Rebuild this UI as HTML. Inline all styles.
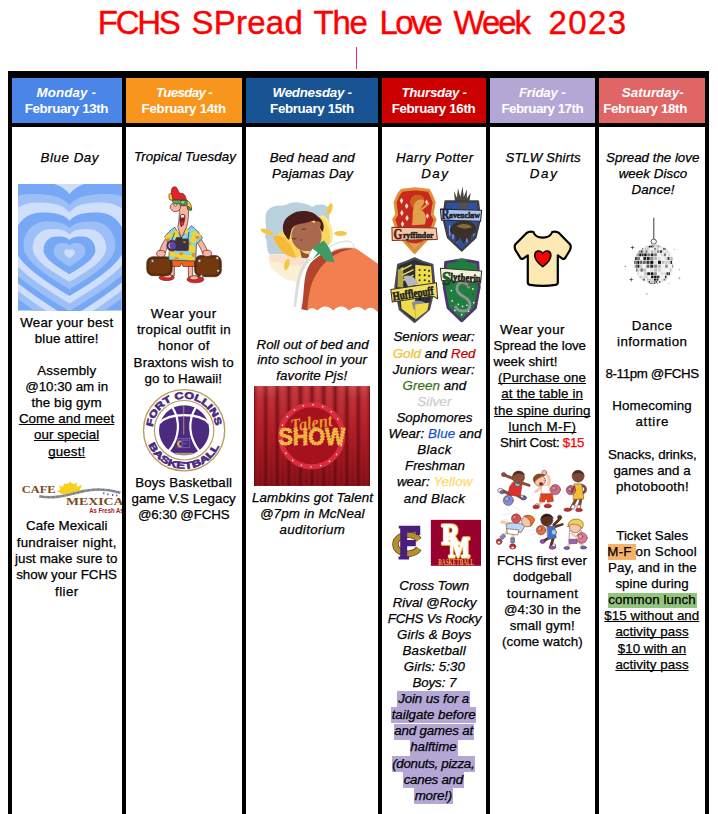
<!DOCTYPE html>
<html><head><meta charset="utf-8"><title>FCHS Spread The Love Week 2023</title>
<style>
html,body{margin:0;padding:0;background:#fff}
body{width:718px;height:814px;overflow:hidden;position:relative;font-family:"Liberation Sans",sans-serif;color:#000}
.tb{position:absolute;left:8px;top:71px;width:701px;height:760px;background:#000}
.c{position:absolute}
.t{position:absolute;white-space:nowrap;font-size:13.33px;line-height:1;margin:0;-webkit-text-stroke:0.25px currentColor}
.i{font-style:italic}
.h{font-weight:bold;color:#fff;-webkit-text-stroke:0}
.hb{font-weight:bold;font-style:italic;color:#fff;-webkit-text-stroke:0}
.u{text-decoration:underline;text-decoration-thickness:1px;text-underline-offset:1.4px;text-decoration-skip-ink:none}
.ttl{font-size:33px;color:#ff0000;font-weight:normal;-webkit-text-stroke:0.4px #ff0000}
.hl{position:absolute}
.h1{position:absolute;left:0;top:0;width:718px;height:45px;margin:0;font-weight:normal}
svg{position:absolute;overflow:hidden;display:block}
</style></head><body>
<div class="tb"></div>
<div class="c" style="left:12px;top:78px;width:110px;height:45px;background:#4a86e8"></div>
<div class="c" style="left:12px;top:127px;width:110px;height:700px;background:#fff"></div>
<div class="c" style="left:126px;top:78px;width:116px;height:45px;background:#f8951d"></div>
<div class="c" style="left:126px;top:127px;width:116px;height:700px;background:#fff"></div>
<div class="c" style="left:246px;top:78px;width:132px;height:45px;background:#185493"></div>
<div class="c" style="left:246px;top:127px;width:132px;height:700px;background:#fff"></div>
<div class="c" style="left:382px;top:78px;width:104px;height:45px;background:#cc0000"></div>
<div class="c" style="left:382px;top:127px;width:104px;height:700px;background:#fff"></div>
<div class="c" style="left:490px;top:78px;width:105px;height:45px;background:#b4a7d6"></div>
<div class="c" style="left:490px;top:127px;width:105px;height:700px;background:#fff"></div>
<div class="c" style="left:599px;top:78px;width:106px;height:45px;background:#e06666"></div>
<div class="c" style="left:599px;top:127px;width:106px;height:700px;background:#fff"></div>
<div class="c" style="left:356px;top:47px;width:1px;height:22px;background:#e52592"></div>
<svg style="left:18.2px;top:184.2px" width="103.8" height="126.6" viewBox="0 0 103.8 126.6"><rect width="103.8" height="126.6" fill="#77a8f6"/><path d="M51.5,-10.1 C62.7,-24.3 82.8,-26.8 107.5,-26.8 C141.1,-26.8 163.5,1.4 163.5,36.7 C163.5,75.5 107.5,114.3 51.5,149.6 C-4.5,114.3 -60.5,75.5 -60.5,36.7 C-60.5,1.4 -38.1,-26.8 -4.5,-26.8 C20.1,-26.8 40.3,-24.3 51.5,-10.1Z" fill="#9cbff8"/><path d="M51.5,-0.0 C61.5,-14.2 79.6,-16.7 101.6,-16.7 C131.7,-16.7 151.8,8.7 151.8,40.4 C151.8,75.4 101.6,110.3 51.5,142.1 C1.3,110.3 -48.8,75.4 -48.8,40.4 C-48.8,8.7 -28.8,-16.7 1.3,-16.7 C23.4,-16.7 41.4,-14.2 51.5,-0.0Z" fill="#cfdffb"/><path d="M51.5,10.0 C60.3,-1.4 76.3,-3.4 95.8,-3.4 C122.3,-3.4 140.1,18.7 140.1,46.3 C140.1,76.6 95.8,107.0 51.5,134.5 C7.2,107.0 -37.1,76.6 -37.1,46.3 C-37.1,18.7 -19.4,-3.4 7.2,-3.4 C26.7,-3.4 42.6,-1.4 51.5,10.0Z" fill="#77a8f6"/><path d="M51.5,20.9 C59.2,11.6 73.2,10.0 90.3,10.0 C113.6,10.0 129.2,28.7 129.2,52.1 C129.2,77.9 90.3,103.6 51.5,127.0 C12.6,103.6 -26.3,77.9 -26.3,52.1 C-26.3,28.7 -10.7,10.0 12.6,10.0 C29.7,10.0 43.7,11.6 51.5,20.9Z" fill="#9cbff8"/><path d="M51.5,28.4 C58.2,19.9 70.2,18.4 84.9,18.4 C105.0,18.4 118.3,34.5 118.3,54.8 C118.3,77.0 84.9,99.3 51.5,119.5 C18.0,99.3 -15.4,77.0 -15.4,54.8 C-15.4,34.5 -2.0,18.4 18.0,18.4 C32.7,18.4 44.8,19.9 51.5,28.4Z" fill="#cfdffb"/><path d="M51.5,36.8 C57.1,29.6 67.1,28.4 79.5,28.4 C96.3,28.4 107.5,41.8 107.5,58.5 C107.5,76.9 79.5,95.3 51.5,112.0 C23.5,95.3 -4.5,76.9 -4.5,58.5 C-4.5,41.8 6.7,28.4 23.5,28.4 C35.8,28.4 45.9,29.6 51.5,36.8Z" fill="#77a8f6"/><path d="M51.5,44.3 C56.1,38.6 64.3,37.6 74.5,37.6 C88.2,37.6 97.4,48.4 97.4,62.0 C97.4,76.9 74.5,91.7 51.5,105.3 C28.5,91.7 5.5,76.9 5.5,62.0 C5.5,48.4 14.7,37.6 28.5,37.6 C38.6,37.6 46.9,38.6 51.5,44.3Z" fill="#9cbff8"/><path d="M51.5,50.6 C55.1,45.9 61.8,45.1 69.9,45.1 C80.9,45.1 88.2,53.5 88.2,64.1 C88.2,75.6 69.9,87.2 51.5,97.8 C33.1,87.2 14.7,75.6 14.7,64.1 C14.7,53.5 22.0,45.1 33.1,45.1 C41.2,45.1 47.8,45.9 51.5,50.6Z" fill="#cfdffb"/><path d="M51.5,56.0 C54.1,53.1 58.7,52.6 64.4,52.6 C72.2,52.6 77.4,58.6 77.4,66.2 C77.4,74.4 64.4,82.7 51.5,90.2 C38.5,82.7 25.6,74.4 25.6,66.2 C25.6,58.6 30.7,52.6 38.5,52.6 C44.2,52.6 48.9,53.1 51.5,56.0Z" fill="#77a8f6"/><path d="M51.5,61.8 C53.1,59.4 55.9,59.0 59.4,59.0 C64.2,59.0 67.3,62.8 67.3,67.5 C67.3,72.8 59.4,78.0 51.5,82.7 C43.5,78.0 35.6,72.8 35.6,67.5 C35.6,62.8 38.8,59.0 43.5,59.0 C47.0,59.0 49.9,59.4 51.5,61.8Z" fill="#9cbff8"/><path d="M51.5,66.0 C52.0,65.3 53.0,65.2 54.1,65.2 C55.7,65.2 56.8,66.6 56.8,68.5 C56.8,70.5 54.1,72.5 51.5,74.4 C48.8,72.5 46.1,70.5 46.1,68.5 C46.1,66.6 47.2,65.2 48.8,65.2 C50.0,65.2 50.9,65.3 51.5,66.0Z" fill="#cfdffb"/></svg>
<svg style="left:140px;top:180px" width="90" height="110" viewBox="0 0 666 814">
<g stroke-linejoin="round" stroke="#4a2a1a" stroke-width="5">
<path d="M196,425 C170,460 150,500 140,540 L185,545 C195,510 210,480 225,460Z" fill="#f7b3a4"/>
<path d="M440,425 C470,460 490,500 505,535 L465,545 C455,515 440,490 425,465Z" fill="#f7b3a4"/>
<rect x="222" y="625" width="32" height="85" fill="#f7b3a4"/>
<rect x="358" y="625" width="32" height="95" fill="#f7b3a4"/>
<ellipse cx="197" cy="722" rx="56" ry="22" fill="#e3222b"/>
<ellipse cx="205" cy="712" rx="30" ry="14" fill="#f7b3a4"/>
<ellipse cx="410" cy="736" rx="62" ry="25" fill="#e3222b"/>
<ellipse cx="400" cy="724" rx="32" ry="15" fill="#f7b3a4"/>
<path d="M210,585 L412,592 L408,640 L318,640 L308,615 L296,640 L215,638Z" fill="#f0641a"/>
<rect x="50" y="568" width="188" height="140" rx="45" fill="#5e2a0c"/>
<rect x="62" y="580" width="164" height="116" rx="36" fill="#74380f"/>
<rect x="404" y="558" width="198" height="158" rx="48" fill="#5e2a0c"/>
<rect x="416" y="570" width="174" height="134" rx="40" fill="#74380f"/>
<circle cx="92" cy="600" r="11" fill="#cdd3bd"/><circle cx="440" cy="598" r="12" fill="#cdd3bd"/><circle cx="572" cy="578" r="12" fill="#cdd3bd"/><circle cx="455" cy="712" r="12" fill="#cdd3bd"/><circle cx="578" cy="672" r="11" fill="#cdd3bd"/>
<ellipse cx="155" cy="545" rx="32" ry="24" fill="#f7b3a4"/>
<ellipse cx="497" cy="543" rx="32" ry="24" fill="#f7b3a4"/>
<path d="M258,350 C225,370 200,395 183,420 L212,470 L222,450 L212,592 L412,600 L418,470 L432,462 L462,428 C440,390 410,360 380,338 L305,425Z" fill="#7fd6ee"/>
<g fill="#f6d22e" stroke="none">
<ellipse cx="225" cy="410" rx="22" ry="14"/><ellipse cx="400" cy="395" rx="24" ry="16"/><ellipse cx="245" cy="555" rx="26" ry="16"/><ellipse cx="385" cy="510" rx="24" ry="30"/><ellipse cx="345" cy="570" rx="30" ry="16"/><ellipse cx="340" cy="375" rx="16" ry="22"/>
</g>
<g fill="#f6d22e" stroke="none"><ellipse cx="290" cy="470" rx="0" ry="0"/><ellipse cx="265" cy="400" rx="20" ry="26"/><ellipse cx="300" cy="560" rx="34" ry="20"/><ellipse cx="395" cy="440" rx="22" ry="26"/><ellipse cx="230" cy="520" rx="14" ry="30"/><ellipse cx="372" cy="575" rx="30" ry="18"/><ellipse cx="435" cy="410" rx="18" ry="14"/><ellipse cx="200" cy="425" rx="14" ry="18"/></g>
<g fill="#f08a1e" stroke="none">
<ellipse cx="210" cy="440" rx="12" ry="9"/><ellipse cx="425" cy="425" rx="16" ry="11"/><ellipse cx="270" cy="580" rx="18" ry="9"/><ellipse cx="395" cy="555" rx="12" ry="16"/><ellipse cx="305" cy="545" rx="16" ry="10"/><ellipse cx="365" cy="470" rx="10" ry="14"/>
</g>
<path d="M292,190 C292,260 286,330 280,350 L305,430 L345,350 C358,300 362,240 358,190Z" fill="#f7b3a4"/>
<path d="M298,262 C312,250 326,252 332,262 C334,300 322,335 304,345 C294,320 294,290 298,262Z" fill="#9c0f1f"/>
<path d="M300,262 C312,252 324,254 330,262 L328,280 L301,282Z" fill="#fff"/>
<ellipse cx="312" cy="322" rx="10" ry="16" fill="#e8484a"/>
<ellipse cx="262" cy="200" rx="38" ry="34" fill="#f7b3a4"/>
<ellipse cx="262" cy="184" rx="12" ry="9" fill="#fff"/>
<path d="M345,150 C370,160 385,190 380,222 L352,215Z" fill="#f6d22e"/>
<path d="M355,195 L385,215 L375,228 L352,215Z" fill="#3aa84a"/>
<path d="M216,105 C230,90 262,100 275,150 L222,148 C214,135 212,120 216,105Z" fill="#f6d22e"/>
<path d="M238,148 L348,148 L346,180 C338,192 310,192 300,182 C292,172 280,170 268,176 C252,178 240,168 238,148Z" fill="#39c15a"/>
<path d="M300,152 L335,152 L332,178 L304,178Z" fill="#7be08a"/>
<path d="M236,112 C222,66 246,36 272,58 C284,78 288,96 300,100 C322,92 338,116 342,146 L244,146Z" fill="#e8202e"/>
<path d="M256,390 L232,455" stroke="#222" stroke-width="5" fill="none"/>
<path d="M362,385 L352,455" stroke="#222" stroke-width="5" fill="none"/>
<rect x="262" y="436" width="96" height="86" rx="8" fill="#3a3347"/>
<rect x="270" y="426" width="40" height="16" fill="#3a3347"/>
<rect x="318" y="452" width="22" height="14" fill="#f0c020"/>
<circle cx="238" cy="486" r="40" fill="#3a3060"/>
<circle cx="238" cy="486" r="30" fill="#5b46b0"/>
<path d="M222,468 a24,24 0 0 0 0,36" stroke="#e8e0ff" stroke-width="7" fill="none"/>
</g>
</svg>
<svg style="left:138px;top:384px" width="92" height="92" viewBox="0 0 718 718">
<circle cx="360" cy="361" r="317" fill="#fff" stroke="#b79d5b" stroke-width="11"/>
<circle cx="360" cy="361" r="232" fill="#fff" stroke="#b79d5b" stroke-width="9"/>
<circle cx="360" cy="361" r="196" fill="#4b2a80"/>
<g fill="none" stroke="#fff" stroke-width="17" stroke-linecap="butt">
<path d="M268,180 C335,290 325,420 240,525"/>
<path d="M452,180 C385,290 395,420 480,525"/>
<path d="M170,305 C240,222 480,222 550,305"/>
</g>
<path d="M357,165 L357,395" stroke="#c9b27a" stroke-width="6"/>
<rect x="312" y="425" width="92" height="72" fill="none" stroke="#8a6fb5" stroke-width="5"/>
<path d="M345,445 a26,26 0 1 0 0,44 l0,-10 a15,15 0 1 1 0,-24Z" fill="#d8b64a"/>
<path d="M338,432 L392,432 L392,444 L352,444 L352,458 L380,458 L380,470 L352,470 L352,494 L338,494Z" fill="#6a4aa0"/>
<path d="M290,537 h140 v16 h-140Z" fill="#c9b27a" opacity="0.8"/>
<defs>
<path id="fcTop" d="M 114.4,335.2 A 247,247 0 0 1 605.6,335.2"/>
<path id="fcBot" d="M 81.8,473.4 A 300,300 0 0 0 638.2,473.4"/>
</defs>
<text font-family="Liberation Sans, sans-serif" font-weight="bold" font-size="74" fill="#4b2a80" stroke="#4b2a80" stroke-width="5" textLength="715" lengthAdjust="spacingAndGlyphs"><textPath href="#fcTop" startOffset="0">FORT COLLINS</textPath></text>
<text font-family="Liberation Sans, sans-serif" font-weight="bold" font-size="74" fill="#4b2a80" stroke="#4b2a80" stroke-width="5" textLength="700" lengthAdjust="spacingAndGlyphs"><textPath href="#fcBot" startOffset="0">BASKETBALL</textPath></text>
</svg>
<svg style="left:12px;top:474px" width="110" height="46" viewBox="0 0 692.8 289.7">
<g fill="#f7d11e">
<path d="M306,120 A58,58 0 0 1 424,112 C400,118 350,128 306,126Z"/>
<path d="M300,118 L280,108 L304,100 L296,72 L322,84 L330,56 L350,78 L368,44 L380,74 L410,52 L408,84 L440,66 L428,100 L448,100 L424,114Z"/>
</g>
<path d="M172,140 C260,160 360,130 450,108 C540,88 620,100 682,118" fill="none" stroke="#8e93b5" stroke-width="17"/>
<path d="M172,140 C260,160 360,130 450,108 C540,88 620,100 682,118" fill="none" stroke="#d9822b" stroke-width="11" stroke-dasharray="9 23"/>
<path d="M172,140 C260,160 360,130 450,108 C540,88 620,100 682,118" fill="none" stroke="#3d7fc4" stroke-width="11" stroke-dasharray="8 24" stroke-dashoffset="11"/>
<path d="M172,140 C260,160 360,130 450,108 C540,88 620,100 682,118" fill="none" stroke="#4f9a4a" stroke-width="9" stroke-dasharray="6 26" stroke-dashoffset="21"/>
<g fill="#4a5a9a"><rect x="600" y="122" width="8" height="12"/><rect x="630" y="126" width="8" height="12"/><rect x="656" y="130" width="8" height="10"/><rect x="574" y="116" width="8" height="12"/></g>
<text x="62" y="122" font-family="Liberation Serif, serif" font-weight="bold" font-size="66" fill="#7b4a1c" textLength="212" lengthAdjust="spacingAndGlyphs">CAFE</text>
<text x="340" y="196" font-family="Liberation Serif, serif" font-weight="bold" font-size="68" fill="#7b4a1c" textLength="420" lengthAdjust="spacingAndGlyphs">MEXICAL</text>
<text x="486" y="246" font-family="Liberation Sans, sans-serif" font-size="46" font-weight="bold" fill="#a3202f" textLength="250" lengthAdjust="spacingAndGlyphs">As Fresh As It</text>
</svg>
<svg style="left:256px;top:196px" width="122" height="120" viewBox="0 0 695.2 683.8">
<path d="M60,92 C95,40 140,62 172,50 C220,22 282,40 320,62 C360,40 402,48 418,72 L418,332 L78,332 C52,300 72,262 50,232 C72,190 42,142 60,92Z" fill="#b9d1dc"/>
<path d="M76,334 L310,334 L262,492 C226,502 204,470 182,482 C150,470 132,442 112,432 C82,420 70,382 76,334Z" fill="#fbf0d4"/>
<path d="M76,334 L310,334 L296,392 C220,404 150,380 80,372Z" fill="#fbe1cc"/>
<g fill="#f6c544">
<ellipse cx="62" cy="204" rx="38" ry="14" transform="rotate(22 62 204)"/>
<ellipse cx="420" cy="74" rx="14" ry="34" transform="rotate(18 420 74)"/>
<ellipse cx="482" cy="214" rx="36" ry="14"/>
<ellipse cx="176" cy="390" rx="14" ry="34" transform="rotate(15 176 390)"/>
</g>
<path d="M98,232 C180,190 290,140 382,108 C420,130 446,190 432,262 C360,300 290,330 228,352 C170,348 120,300 98,232Z" fill="#fbd65f"/>
<path d="M98,232 C150,210 200,260 228,352 C170,348 120,300 98,232Z" fill="#f7b93a"/>
<path d="M360,118 C400,130 430,190 420,255 L432,262 C446,190 420,130 382,108Z" fill="#fde792"/>
<path d="M250,300 C270,330 300,340 340,320 L345,360 L260,352Z" fill="#8f553c"/>
<circle cx="288" cy="228" r="86" fill="#a9694f"/>
<path d="M170,230 C140,190 150,130 200,105 C240,75 320,80 350,115 C385,135 395,180 378,205 C360,180 352,150 330,140 C290,160 230,150 205,185 C195,210 195,235 188,250 C178,246 174,238 170,230Z" fill="#4a1d1a"/>
<circle cx="350" cy="163" r="19" fill="#a9694f"/>
<path d="M205,240 q12,10 26,2" stroke="#3a1a12" stroke-width="4" fill="none"/>
<path d="M262,192 q10,-8 22,-2" stroke="#3a1a12" stroke-width="4" fill="none"/>
<ellipse cx="258" cy="250" rx="6" ry="4" fill="#6b2a22"/>
<path d="M296,350 C340,300 440,265 520,256 C548,262 560,280 556,296 C470,300 380,330 330,400 C290,470 300,560 262,648 L214,628 C230,540 220,430 296,350Z" fill="#fff"/>
<path d="M296,350 C220,430 230,540 214,628 L228,636 C246,540 240,440 310,366Z" fill="#dcdcdc"/>
<path d="M312,380 C380,312 480,282 570,300 C480,330 392,400 336,500 C312,560 306,620 296,652 L258,646 C280,560 262,450 312,380Z" fill="#b4452d"/>
<path d="M340,452 C400,342 500,300 572,300 L696,386 L696,662 C672,640 650,622 620,652 C590,622 560,630 530,652 C500,622 470,622 440,652 C410,622 380,622 350,652 C322,632 304,640 292,652 C300,560 310,502 340,452Z" fill="#f27f50"/>
<path d="M404,300 C440,272 500,252 530,258 C552,266 562,282 556,297 C500,290 452,302 424,324Z" fill="#fff" stroke="#cfcfcf" stroke-width="5"/>
<path d="M330,292 L386,254 C420,290 440,340 446,378 L400,372 L362,330 L322,362 L298,334Z" fill="#3e9c62"/>
<path d="M322,300 L352,322 L322,362 L300,336Z" fill="#fff"/>
</svg>
<svg style="left:254.2px;top:386.3px" width="116" height="100" viewBox="0 0 590 508">
<defs>
<linearGradient id="tsv" x1="0" y1="0" x2="0" y2="1"><stop offset="0" stop-color="#c63a40"/><stop offset="0.45" stop-color="#b01a22"/><stop offset="1" stop-color="#7a0a12"/></linearGradient>
<linearGradient id="tsf" x1="0" y1="0" x2="1" y2="0"><stop offset="0" stop-color="#5a060c" stop-opacity="0.75"/><stop offset="0.5" stop-color="#e8404a" stop-opacity="0.0"/><stop offset="1" stop-color="#5a060c" stop-opacity="0.75"/></linearGradient>
<pattern id="tsp" width="59" height="508" patternUnits="userSpaceOnUse"><rect width="59" height="508" fill="url(#tsf)"/></pattern>
<radialGradient id="tsl" cx="0.5" cy="0" r="0.6"><stop offset="0" stop-color="#ffb0b0" stop-opacity="0.55"/><stop offset="1" stop-color="#ffb0b0" stop-opacity="0"/></radialGradient>
</defs>
<rect width="590" height="508" fill="url(#tsv)"/>
<rect width="590" height="508" fill="url(#tsp)"/>
<ellipse cx="70" cy="20" rx="140" ry="230" fill="url(#tsl)"/>
<ellipse cx="520" cy="20" rx="140" ry="230" fill="url(#tsl)"/>
<circle cx="293" cy="253" r="158" fill="#a5121d" stroke="#da2e40" stroke-width="26"/>
<circle cx="293" cy="253" r="158" fill="none" stroke="#ffd9d0" stroke-width="7" stroke-dasharray="2 48" stroke-linecap="round"/>
<text x="186" y="218" font-family="Liberation Serif, serif" font-style="italic" font-weight="bold" font-size="92" fill="#e8952e" textLength="215" lengthAdjust="spacingAndGlyphs" transform="rotate(-8 293 200)">Talent</text>
<text x="124" y="300" font-family="Liberation Sans, sans-serif" font-weight="bold" font-size="118" fill="#f6b53a" stroke="#d8801e" stroke-width="3" textLength="340" lengthAdjust="spacingAndGlyphs">SHOW</text>
<text x="124" y="300" font-family="Liberation Sans, sans-serif" font-weight="bold" font-size="118" fill="none" stroke="#fff2b0" stroke-width="5" stroke-dasharray="1 14" stroke-linecap="round" textLength="340" lengthAdjust="spacingAndGlyphs">SHOW</text>
</svg>
<svg style="left:386px;top:184px" width="100" height="140" viewBox="0 0 581 814">
<g stroke-linejoin="round">
<!-- Gryffindor -->
<path d="M92,36 L168,28 L248,36 L262,62 L280,106 L268,178 L286,206 L270,250 L256,300 L166,398 L76,300 L60,250 L44,206 L62,178 L52,106 L72,62Z" fill="#c9281c" stroke="#de933a" stroke-width="17"/>
<g fill="#f6e6d8"><path d="M90,80 l10,18 l-10,18 l-10,-18Z"/><path d="M120,110 l10,18 l-10,18 l-10,-18Z"/><path d="M92,150 l10,18 l-10,18 l-10,-18Z"/><path d="M122,180 l10,18 l-10,18 l-10,-18Z"/><path d="M96,215 l10,18 l-10,18 l-10,-18Z"/><path d="M236,90 l9,16 l-9,16 l-9,-16Z"/><path d="M240,170 l9,16 l-9,16 l-9,-16Z"/></g>
<path d="M150,80 C170,55 215,60 222,95 C225,120 205,130 200,150 C230,160 240,200 225,235 L150,240 C160,200 150,170 160,140 C140,120 138,98 150,80Z" fill="#e0a04c"/>
<path d="M150,80 C170,55 215,60 222,95 C205,85 180,90 168,110 C158,125 162,140 160,140 C140,120 138,98 150,80Z" fill="#c8641e"/>
<path d="M205,150 L250,110" stroke="#e0a04c" stroke-width="12"/>
<path d="M120,330 C140,350 190,350 215,330 L166,385Z" fill="#e0a04c"/>
<path d="M34,252 L292,256 L298,322 L36,328Z" fill="#f3c8a8" stroke="#7a3a1a" stroke-width="6"/>
<text x="44" y="320" font-family="Liberation Serif, serif" font-weight="bold" font-size="84" fill="#8a1510" stroke="#3a0a08" stroke-width="3" textLength="52" lengthAdjust="spacingAndGlyphs">G</text>
<text x="98" y="312" font-family="Liberation Serif, serif" font-weight="bold" font-size="54" fill="#1a1a1a" stroke="#1a1a1a" stroke-width="3" textLength="178" lengthAdjust="spacingAndGlyphs">ryffindor</text>
<!-- Ravenclaw -->
<path d="M400,100 L395,40 L412,80 L418,25 L432,75 L445,15 L452,75 L470,30 L470,85 L492,50 L485,100Z" fill="#4a4640"/>
<path d="M346,102 L534,102 L546,200 L520,310 L440,386 L360,310 L334,200Z" fill="#2f519f" stroke="#3f3f3f" stroke-width="14"/>
<path d="M370,300 l0,-60 M390,320 l0,-70 M410,340 l0,-70 M470,340 l0,-70 M490,320 l0,-70 M510,300 l0,-60" stroke="#8fa8dc" stroke-width="7"/>
<path d="M372,262 C385,215 470,200 505,228 C535,240 528,285 498,296 L488,340 L470,312 L452,352 L430,312 L404,345 L400,296 C378,290 368,280 372,262Z" fill="#3c3129"/><path d="M410,245 C440,225 480,230 500,250 C480,262 440,262 410,245Z" fill="#8a6a3a"/>
<path d="M420,120 C440,100 475,105 480,130 L450,150Z" fill="#5a5048"/>
<path d="M316,146 L556,152 L550,216 L322,210Z" fill="#a9c3ea" stroke="#2a2a3a" stroke-width="6"/>
<text x="322" y="206" font-family="Liberation Serif, serif" font-weight="bold" font-size="80" fill="#1d2446" stroke="#1d2446" stroke-width="3" textLength="46" lengthAdjust="spacingAndGlyphs">R</text>
<text x="366" y="200" font-family="Liberation Serif, serif" font-weight="bold" font-size="54" fill="#1a1a1a" stroke="#1a1a1a" stroke-width="3" textLength="180" lengthAdjust="spacingAndGlyphs">avenclaw</text>
<!-- Hufflepuff -->
<path d="M70,470 L120,452 L166,432 L212,452 L270,470 L282,600 L250,730 L166,802 L80,730 L54,600Z" fill="#2a2c3a" stroke="#4a4a5a" stroke-width="12"/>
<path d="M170,470 L262,478 L272,600 L170,600Z" fill="#efdc4a"/>
<path d="M84,660 L170,650 L170,785 L90,725Z" fill="#efdc4a"/>
<path d="M90,500 l60,-30 M95,530 l65,-32 M100,560 l60,-30" stroke="#efdc4a" stroke-width="9"/>
<g fill="#2a2c3a"><circle cx="195" cy="500" r="6"/><circle cx="225" cy="500" r="6"/><circle cx="250" cy="505" r="6"/><circle cx="195" cy="530" r="6"/><circle cx="225" cy="530" r="6"/><circle cx="250" cy="535" r="6"/><circle cx="195" cy="560" r="6"/><circle cx="225" cy="560" r="6"/><circle cx="250" cy="565" r="6"/></g>
<path d="M100,540 C130,520 170,540 190,580 L130,600Z" fill="#b8b8c0"/>
<path d="M150,690 C180,670 220,680 240,700 L200,740 L160,730Z" fill="#8a8c9a"/>
<path d="M28,614 L293,574 L300,668 C284,654 272,650 262,653 L36,686Z" fill="#f2e066" stroke="#3a3420" stroke-width="6"/>
<text x="0" y="0" font-family="Liberation Serif, serif" font-weight="bold" font-size="70" fill="#1a1a1a" stroke="#1a1a1a" stroke-width="3.5" textLength="240" lengthAdjust="spacingAndGlyphs" transform="translate(42,678) rotate(-8.5)">Hufflepuff</text>
<path d="M170,700 L250,690 L240,735 L170,790Z" fill="#efdc4a"/><path d="M70,500 L100,480 L100,600 L66,600Z" fill="#efdc4a" opacity="0.7"/>
<!-- Slytherin -->
<path d="M346,456 L440,440 L534,456 L542,600 L520,720 L440,796 L360,720 L338,600Z" fill="#1f7d3f" stroke="#4f3570" stroke-width="16"/>
<path d="M410,450 L470,450 L470,436 L410,436Z" fill="#1f7d3f"/>
<path d="M480,600 C470,560 410,565 412,610 C415,660 490,650 488,705 C486,750 420,745 405,715" fill="none" stroke="#8d9493" stroke-width="17" stroke-linecap="round"/>
<circle cx="480" cy="590" r="5" fill="#c01020"/><circle cx="505" cy="640" r="5" fill="#c01020"/>
<g fill="#e8f0e0"><circle cx="380" cy="620" r="5"/><circle cx="385" cy="680" r="5"/><circle cx="510" cy="690" r="5"/><circle cx="505" cy="610" r="5"/><circle cx="440" cy="760" r="5"/><circle cx="400" cy="735" r="5"/><circle cx="480" cy="740" r="5"/><circle cx="420" cy="700" r="5"/><circle cx="445" cy="712" r="5"/><circle cx="470" cy="705" r="5"/></g>
<path d="M316,490 L556,506 L550,576 L322,560Z" fill="#f4f3da" stroke="#3a3a2a" stroke-width="6"/>
<text x="0" y="0" font-family="Liberation Serif, serif" font-weight="bold" font-size="112" fill="#1f6a35" stroke="#123a1c" stroke-width="4" textLength="54" lengthAdjust="spacingAndGlyphs" transform="translate(322,584) rotate(3)">S</text>
<text x="0" y="0" font-family="Liberation Serif, serif" font-weight="bold" font-size="62" fill="#1a1a1a" stroke="#1a1a1a" stroke-width="3.5" textLength="176" lengthAdjust="spacingAndGlyphs" transform="translate(374,560) rotate(3.5)">lytherin</text>
</g>
</svg>
<svg style="left:386px;top:514px" width="100" height="58" viewBox="0 0 718 416.4">
<path d="M236,186 A89,68 0 1 0 236,248" fill="none" stroke="#4a3a1a" stroke-width="46"/>
<path d="M236,186 A89,68 0 1 0 236,248" fill="none" stroke="#b98f2c" stroke-width="36"/>
<path d="M92,84 L246,84 L246,150 L216,150 L212,132 L152,132 L152,186 L214,186 L214,232 L152,232 L152,306 L166,306 L166,326 L90,326 L90,306 L102,306 L102,104 L92,104Z" fill="#4a1f7a"/>
<rect x="322" y="42" width="360" height="330" fill="#98002e"/>
<text x="400" y="214" font-family="Liberation Serif, serif" font-weight="bold" font-size="218" fill="#f0b840" stroke="#f0b840" stroke-width="24" stroke-linejoin="round" textLength="128" lengthAdjust="spacingAndGlyphs">R</text>
<text x="450" y="308" font-family="Liberation Serif, serif" font-weight="bold" font-size="218" fill="#f0b840" stroke="#f0b840" stroke-width="24" stroke-linejoin="round" textLength="152" lengthAdjust="spacingAndGlyphs">M</text>
<text x="400" y="214" font-family="Liberation Serif, serif" font-weight="bold" font-size="218" fill="#fff" stroke="#fff" stroke-width="11" stroke-linejoin="round" textLength="128" lengthAdjust="spacingAndGlyphs">R</text>
<text x="450" y="308" font-family="Liberation Serif, serif" font-weight="bold" font-size="218" fill="#fff" stroke="#fff" stroke-width="11" stroke-linejoin="round" textLength="152" lengthAdjust="spacingAndGlyphs">M</text>
<text x="376" y="364" font-family="Liberation Serif, serif" font-weight="bold" font-size="58" fill="#e9b23a" textLength="256" lengthAdjust="spacingAndGlyphs">BASKETBALL</text>
</svg>
<svg style="left:510px;top:226px" width="66" height="66" viewBox="510 226 66 66">
<path d="M533.4,232 C536,239.5 549.5,239.5 552.2,232 C555,231.2 557,231.6 559,233 L570.2,244.6 C571,246 570.8,248 570,250 L565.2,258 C564.4,259 563.4,259.2 562.4,258.6 L557.8,255.4 L557.8,282.6 C557.8,284 557,284.6 555.6,284.8 C547,286.2 538.5,286.2 530,284.8 C528.6,284.6 527.8,284 527.8,282.6 L527.8,255.4 L523.2,258.6 C522.2,259.2 521.2,259 520.4,258 L515.4,250 C514.6,248 514.4,246 515.2,244.6 L526.6,233 C528.6,231.6 530.6,231.2 533.4,232Z" fill="#fce8b2" stroke="#000" stroke-width="2.2" stroke-linejoin="round"/>
<path d="M542.8,266.6 C536.5,262 534.6,258.4 534.8,255 C535,250.8 540.4,249.4 542.8,253.6 C545.2,249.4 550.6,250.8 550.8,255 C551,258.4 549.1,262 542.8,266.6Z" fill="#ff0000" stroke="#000" stroke-width="1.6" stroke-linejoin="round"/>
</svg>
<svg style="left:618px;top:210px" width="72" height="96" viewBox="0 0 610 814"><defs><clipPath id="dbc"><circle cx="303" cy="460" r="170"/></clipPath></defs><path d="M303,65 L303,246" stroke="#5a5a5a" stroke-width="10"/><circle cx="303" cy="268" r="22" fill="#fff" stroke="#4a4a4a" stroke-width="8"/><circle cx="303" cy="460" r="170" fill="#f4f4f4"/><g clip-path="url(#dbc)"><rect x="263" y="294" width="5" height="8" fill="#bbb"/><rect x="269" y="294" width="6" height="8" fill="#bbb"/><rect x="276" y="294" width="7" height="8" fill="#333"/><rect x="285" y="294" width="7" height="8" fill="#333"/><rect x="294" y="294" width="8" height="8" fill="#333"/><rect x="304" y="294" width="8" height="8" fill="#666"/><rect x="314" y="294" width="7" height="8" fill="#bbb"/><rect x="323" y="294" width="7" height="8" fill="#888"/><rect x="331" y="294" width="6" height="8" fill="#ddd"/><rect x="339" y="294" width="5" height="8" fill="#111"/><rect x="237" y="305" width="8" height="13" fill="#bbb"/><rect x="248" y="305" width="10" height="13" fill="#ccc"/><rect x="260" y="305" width="11" height="13" fill="#111"/><rect x="274" y="305" width="12" height="13" fill="#111"/><rect x="289" y="305" width="13" height="13" fill="#666"/><rect x="305" y="305" width="13" height="13" fill="#ddd"/><rect x="320" y="305" width="12" height="13" fill="#ddd"/><rect x="335" y="305" width="11" height="13" fill="#888"/><rect x="349" y="305" width="10" height="13" fill="#bbb"/><rect x="361" y="305" width="8" height="13" fill="#ddd"/><rect x="198" y="321" width="5" height="17" fill="#ddd"/><rect x="204" y="321" width="8" height="17" fill="#888"/><rect x="215" y="321" width="11" height="17" fill="#ccc"/><rect x="228" y="321" width="13" height="17" fill="#ccc"/><rect x="245" y="321" width="15" height="17" fill="#bbb"/><rect x="305" y="321" width="17" height="17" fill="#888"/><rect x="326" y="321" width="16" height="17" fill="#ccc"/><rect x="381" y="321" width="11" height="17" fill="#666"/><rect x="394" y="321" width="8" height="17" fill="#222"/><rect x="403" y="321" width="5" height="17" fill="#777"/><rect x="175" y="342" width="6" height="21" fill="#222"/><rect x="183" y="342" width="10" height="21" fill="#888"/><rect x="195" y="342" width="13" height="21" fill="#333"/><rect x="212" y="342" width="16" height="21" fill="#ccc"/><rect x="232" y="342" width="18" height="21" fill="#777"/><rect x="255" y="342" width="20" height="21" fill="#ddd"/><rect x="280" y="342" width="21" height="21" fill="#bbb"/><rect x="306" y="342" width="21" height="21" fill="#ccc"/><rect x="331" y="342" width="20" height="21" fill="#888"/><rect x="356" y="342" width="18" height="21" fill="#333"/><rect x="378" y="342" width="16" height="21" fill="#ddd"/><rect x="398" y="342" width="13" height="21" fill="#ddd"/><rect x="413" y="342" width="10" height="21" fill="#ccc"/><rect x="425" y="342" width="6" height="21" fill="#ddd"/><rect x="157" y="368" width="7" height="24" fill="#777"/><rect x="166" y="368" width="11" height="24" fill="#888"/><rect x="180" y="368" width="15" height="24" fill="#111"/><rect x="199" y="368" width="18" height="24" fill="#222"/><rect x="222" y="368" width="21" height="24" fill="#111"/><rect x="248" y="368" width="23" height="24" fill="#777"/><rect x="277" y="368" width="23" height="24" fill="#222"/><rect x="306" y="368" width="23" height="24" fill="#777"/><rect x="363" y="368" width="21" height="24" fill="#ddd"/><rect x="389" y="368" width="18" height="24" fill="#777"/><rect x="429" y="368" width="11" height="24" fill="#ccc"/><rect x="144" y="398" width="7" height="26" fill="#111"/><rect x="154" y="398" width="12" height="26" fill="#333"/><rect x="170" y="398" width="16" height="26" fill="#777"/><rect x="215" y="398" width="23" height="26" fill="#222"/><rect x="244" y="398" width="24" height="26" fill="#222"/><rect x="274" y="398" width="25" height="26" fill="#888"/><rect x="306" y="398" width="25" height="26" fill="#bbb"/><rect x="338" y="398" width="24" height="26" fill="#ddd"/><rect x="396" y="398" width="20" height="26" fill="#ddd"/><rect x="420" y="398" width="16" height="26" fill="#333"/><rect x="440" y="398" width="12" height="26" fill="#ccc"/><rect x="454" y="398" width="7" height="26" fill="#777"/><rect x="138" y="430" width="8" height="27" fill="#333"/><rect x="148" y="430" width="13" height="27" fill="#666"/><rect x="164" y="430" width="17" height="27" fill="#111"/><rect x="186" y="430" width="21" height="27" fill="#666"/><rect x="212" y="430" width="23" height="27" fill="#666"/><rect x="241" y="430" width="25" height="27" fill="#333"/><rect x="273" y="430" width="26" height="27" fill="#111"/><rect x="306" y="430" width="26" height="27" fill="#ddd"/><rect x="339" y="430" width="25" height="27" fill="#111"/><rect x="371" y="430" width="23" height="27" fill="#bbb"/><rect x="400" y="430" width="21" height="27" fill="#ccc"/><rect x="425" y="430" width="17" height="27" fill="#ccc"/><rect x="445" y="430" width="13" height="27" fill="#222"/><rect x="138" y="463" width="8" height="27" fill="#ccc"/><rect x="148" y="463" width="13" height="27" fill="#666"/><rect x="164" y="463" width="17" height="27" fill="#222"/><rect x="186" y="463" width="21" height="27" fill="#ccc"/><rect x="241" y="463" width="25" height="27" fill="#666"/><rect x="273" y="463" width="26" height="27" fill="#333"/><rect x="306" y="463" width="26" height="27" fill="#888"/><rect x="339" y="463" width="25" height="27" fill="#bbb"/><rect x="400" y="463" width="21" height="27" fill="#888"/><rect x="460" y="463" width="8" height="27" fill="#777"/><rect x="154" y="496" width="12" height="26" fill="#666"/><rect x="170" y="496" width="16" height="26" fill="#ddd"/><rect x="190" y="496" width="20" height="26" fill="#666"/><rect x="215" y="496" width="23" height="26" fill="#bbb"/><rect x="274" y="496" width="25" height="26" fill="#ddd"/><rect x="306" y="496" width="25" height="26" fill="#bbb"/><rect x="338" y="496" width="24" height="26" fill="#ccc"/><rect x="440" y="496" width="12" height="26" fill="#bbb"/><rect x="166" y="528" width="11" height="24" fill="#ddd"/><rect x="222" y="528" width="21" height="24" fill="#bbb"/><rect x="248" y="528" width="23" height="24" fill="#222"/><rect x="277" y="528" width="23" height="24" fill="#111"/><rect x="306" y="528" width="23" height="24" fill="#888"/><rect x="363" y="528" width="21" height="24" fill="#ddd"/><rect x="389" y="528" width="18" height="24" fill="#ddd"/><rect x="411" y="528" width="15" height="24" fill="#333"/><rect x="429" y="528" width="11" height="24" fill="#222"/><rect x="183" y="557" width="10" height="21" fill="#bbb"/><rect x="195" y="557" width="13" height="21" fill="#ddd"/><rect x="212" y="557" width="16" height="21" fill="#ddd"/><rect x="232" y="557" width="18" height="21" fill="#ccc"/><rect x="280" y="557" width="21" height="21" fill="#111"/><rect x="306" y="557" width="21" height="21" fill="#111"/><rect x="331" y="557" width="20" height="21" fill="#333"/><rect x="398" y="557" width="13" height="21" fill="#333"/><rect x="198" y="582" width="5" height="17" fill="#ddd"/><rect x="204" y="582" width="8" height="17" fill="#bbb"/><rect x="215" y="582" width="11" height="17" fill="#333"/><rect x="245" y="582" width="15" height="17" fill="#bbb"/><rect x="264" y="582" width="16" height="17" fill="#bbb"/><rect x="284" y="582" width="17" height="17" fill="#bbb"/><rect x="305" y="582" width="17" height="17" fill="#111"/><rect x="326" y="582" width="16" height="17" fill="#111"/><rect x="365" y="582" width="13" height="17" fill="#ddd"/><rect x="381" y="582" width="11" height="17" fill="#bbb"/><rect x="394" y="582" width="8" height="17" fill="#333"/><rect x="403" y="582" width="5" height="17" fill="#ccc"/><rect x="248" y="603" width="10" height="13" fill="#ddd"/><rect x="260" y="603" width="11" height="13" fill="#111"/><rect x="274" y="603" width="12" height="13" fill="#bbb"/><rect x="289" y="603" width="13" height="13" fill="#bbb"/><rect x="305" y="603" width="13" height="13" fill="#666"/><rect x="320" y="603" width="12" height="13" fill="#222"/><rect x="349" y="603" width="10" height="13" fill="#111"/><rect x="361" y="603" width="8" height="13" fill="#ddd"/><rect x="370" y="603" width="6" height="13" fill="#ccc"/><rect x="269" y="618" width="6" height="8" fill="#333"/><rect x="276" y="618" width="7" height="8" fill="#111"/><rect x="285" y="618" width="7" height="8" fill="#111"/><rect x="294" y="618" width="8" height="8" fill="#888"/><rect x="304" y="618" width="8" height="8" fill="#111"/><rect x="314" y="618" width="7" height="8" fill="#888"/><rect x="323" y="618" width="7" height="8" fill="#ddd"/><rect x="331" y="618" width="6" height="8" fill="#888"/><rect x="339" y="618" width="5" height="8" fill="#888"/></g><path d="M122,296 L125.96,314.04 L144,318 L125.96,321.96 L122,340 L118.04,321.96 L100,318 L118.04,314.04Z" fill="#444"/><path d="M112,568 L115.96,586.04 L134,590 L115.96,593.96 L112,612 L108.04,593.96 L90,590 L108.04,586.04Z" fill="#444"/><path d="M62,466 L64.16,475.84 L74,478 L64.16,480.16 L62,490 L59.84,480.16 L50,478 L59.84,475.84Z" fill="#888"/><path d="M520,491 L522.52,502.48 L534,505 L522.52,507.52 L520,519 L517.48,507.52 L506,505 L517.48,502.48Z" fill="#aaa"/><path d="M520,564 L522.52,575.48 L534,578 L522.52,580.52 L520,592 L517.48,580.52 L506,578 L517.48,575.48Z" fill="#888"/><path d="M245,698 L247.52,709.48 L259,712 L247.52,714.52 L245,726 L242.48,714.52 L231,712 L242.48,709.48Z" fill="#999"/><path d="M480,323 L482.16,332.84 L492,335 L482.16,337.16 L480,347 L477.84,337.16 L468,335 L477.84,332.84Z" fill="#bbb"/><path d="M432,613 L433.62,620.38 L441,622 L433.62,623.62 L432,631 L430.38,623.62 L423,622 L430.38,620.38Z" fill="#bbb"/></svg>
<svg style="left:492px;top:464px" width="102" height="90" viewBox="0 0 718 633.5">
<g stroke-linecap="round" stroke-linejoin="round" stroke="#6a3a34" stroke-width="4">
<!-- kid1 -->
<path d="M155,105 L80,75" stroke="#8a5038" stroke-width="22"/><circle cx="82" cy="74" r="15" fill="#8a5038"/>
<path d="M215,135 L262,150" stroke="#8a5038" stroke-width="20"/>
<path d="M130,215 L70,185" stroke="#8a5038" stroke-width="22"/><path d="M185,225 L212,240" stroke="#8a5038" stroke-width="22"/>
<ellipse cx="60" cy="186" rx="20" ry="15" fill="#e8ecf8"/><ellipse cx="72" cy="198" rx="16" ry="12" fill="#4a70c0"/>
<ellipse cx="222" cy="238" rx="20" ry="16" fill="#4a70c0"/><ellipse cx="212" cy="228" rx="12" ry="9" fill="#e8ecf8"/>
<path d="M148,128 L212,140 L198,232 L112,214 L124,160Z" fill="#e0302a"/>
<path d="M160,130 L200,138 L190,160 L165,155Z" fill="#8ab8e8"/>
<circle cx="186" cy="96" r="42" fill="#8a5038"/>
<path d="M146,84 C150,40 220,36 230,80 C200,60 170,64 146,84Z" fill="#4a2a20"/>
<circle cx="115" cy="256" r="36" fill="#7b8fe2"/><circle cx="105" cy="246" r="16" fill="#a0b2f0"/>
<path d="M95,300 L120,330 M140,295 L190,322" stroke="#d0d0d0" stroke-width="3"/>
<!-- kid2 -->
<path d="M372,70 C400,80 410,110 398,140" stroke="#f8c8a8" stroke-width="24" fill="none"/><circle cx="368" cy="60" r="16" fill="#f8c8a8"/>
<path d="M340,170 L308,195" stroke="#f8c8a8" stroke-width="20"/>
<path d="M362,255 L322,292" stroke="#f8c8a8" stroke-width="22"/><path d="M400,255 L392,288" stroke="#f8c8a8" stroke-width="22"/>
<path d="M316,280 l20,14 l-14,14 l-20,-14Z" fill="#fff"/>
<ellipse cx="310" cy="302" rx="22" ry="13" fill="#d8202a"/><ellipse cx="392" cy="296" rx="26" ry="13" fill="#d8202a"/>
<path d="M350,150 L400,150 L412,215 L350,215Z" fill="#fbfbfb" stroke="#e8a040" stroke-width="4"/>
<path d="M345,210 L425,210 L432,262 L392,268 L382,240 L368,268 L336,262Z" fill="#e8401a"/>
<circle cx="336" cy="116" r="40" fill="#f8c8a8"/>
<path d="M290,110 C290,70 340,60 372,80 C350,90 320,96 300,128Z" fill="#8a4a20"/>
<ellipse cx="345" cy="140" rx="12" ry="9" fill="#a01818"/>
<circle cx="446" cy="180" r="36" fill="#d06a8a"/><circle cx="436" cy="170" r="15" fill="#e090a8"/>
<path d="M480,210 L498,236 M492,190 L512,214" stroke="#d0d0d0" stroke-width="3"/>
<!-- kid3 -->
<path d="M590,250 L560,310" stroke="#7a4a38" stroke-width="22"/><path d="M625,250 L612,310" stroke="#7a4a38" stroke-width="22"/>
<path d="M566,285 l22,8 l-12,26 l-22,-8Z" fill="#fff"/><path d="M602,288 l22,0 l-2,28 l-22,0Z" fill="#fff"/>
<ellipse cx="532" cy="322" rx="26" ry="12" fill="#d8202a"/><ellipse cx="612" cy="324" rx="24" ry="12" fill="#d8202a"/>
<path d="M632,150 C665,160 668,190 640,205" stroke="#7a4a38" stroke-width="18" fill="none"/>
<path d="M580,140 L632,140 L646,246 L574,250Z" fill="#f0c030"/>
<circle cx="606" cy="86" r="42" fill="#7a4a38"/>
<path d="M566,76 C572,36 640,34 648,78 C620,58 592,60 566,76Z" fill="#4a2820"/>
<circle cx="556" cy="184" r="33" fill="#c86484"/><circle cx="548" cy="176" r="14" fill="#dc8ca4"/>
<path d="M580,160 L560,200" stroke="#7a4a38" stroke-width="14"/>
<!-- kid4 -->
<path d="M150,425 L70,408" stroke="#f8c8a8" stroke-width="22"/>
<path d="M120,470 L65,520" stroke="#f8c8a8" stroke-width="22"/><path d="M150,480 L145,550" stroke="#f8c8a8" stroke-width="22"/>
<path d="M78,492 l18,16 l-22,24 l-18,-16Z" fill="#5a90e0"/><path d="M134,520 l24,0 l0,34 l-24,0Z" fill="#5a90e0"/>
<ellipse cx="50" cy="546" rx="20" ry="20" fill="#d8202a"/><ellipse cx="146" cy="580" rx="22" ry="18" fill="#d8202a"/>
<ellipse cx="50" cy="552" rx="12" ry="10" fill="#fff"/><ellipse cx="146" cy="588" rx="12" ry="9" fill="#fff"/>
<path d="M100,425 C140,405 200,415 235,432 L205,482 L112,474Z" fill="#b8d8f8"/>
<path d="M105,455 L190,465 L180,500 L110,490Z" fill="#fff"/>
<circle cx="248" cy="402" r="40" fill="#f8c8a8"/>
<path d="M230,368 C260,350 300,370 300,395 C290,420 280,430 270,440 C280,410 265,385 230,368Z" fill="#f07020"/>
<circle cx="170" cy="384" r="33" fill="#e05050"/><circle cx="160" cy="374" r="14" fill="#f08080"/>
<path d="M80,360 L130,350 M70,395 L110,392" stroke="#d0d0d0" stroke-width="3"/>
<!-- kid5 -->
<path d="M435,430 L478,385" stroke="#5a3020" stroke-width="20"/><circle cx="476" cy="375" r="15" fill="#5a3020"/>
<path d="M450,440 L495,425" stroke="#5a3020" stroke-width="18"/>
<path d="M400,520 L365,540" stroke="#5a3020" stroke-width="20"/><path d="M430,525 L415,575" stroke="#5a3020" stroke-width="20"/>
<ellipse cx="356" cy="546" rx="18" ry="14" fill="#8a50c0"/><ellipse cx="425" cy="586" rx="24" ry="14" fill="#8a50c0"/>
<ellipse cx="436" cy="572" rx="12" ry="10" fill="#fff"/>
<path d="M388,440 L442,438 L452,520 L394,532Z" fill="#3a70d0"/>
<ellipse cx="436" cy="480" rx="18" ry="20" fill="#90d0f0"/>
<circle cx="386" cy="396" r="42" fill="#5a3020"/>
<path d="M344,390 C340,345 420,335 432,385 C405,365 372,368 344,390Z" fill="#2a1a1a"/>
<ellipse cx="400" cy="420" rx="8" ry="7" fill="#c02020"/>
<circle cx="345" cy="466" r="33" fill="#e07040"/><circle cx="336" cy="456" r="14" fill="#f09870"/>
<path d="M260,470 L300,462 M270,500 L305,488" stroke="#d0d0d0" stroke-width="3"/>
<!-- kid6 -->
<path d="M560,545 L535,580" stroke="#f8c8a8" stroke-width="20"/><path d="M620,555 L640,580" stroke="#f8c8a8" stroke-width="20"/>
<ellipse cx="526" cy="592" rx="20" ry="11" fill="#4a70d0"/><ellipse cx="644" cy="588" rx="22" ry="11" fill="#4a70d0"/>
<path d="M548,470 L630,470 L640,545 L545,550Z" fill="#fbfbfb" stroke="#9a60c0" stroke-width="5"/>
<path d="M545,530 L600,530 L598,560 L545,560Z" fill="#9a60c0"/>
<circle cx="586" cy="442" r="42" fill="#f8c8a8"/>
<path d="M535,440 C530,385 610,370 640,410 C645,430 640,445 632,455 C620,430 590,420 560,425 C548,432 540,440 535,440Z" fill="#f5d050"/>
<circle cx="632" cy="520" r="38" fill="#d87a98"/><circle cx="622" cy="510" r="16" fill="#e8a0b4"/>
<path d="M560,490 L600,520" stroke="#f8c8a8" stroke-width="16"/>
</g>
</svg>
<div class="hl" style="left:397.3px;top:691.2px;width:73.0px;height:16.2px;background:#b4a7d6"></div>
<div class="hl" style="left:391.2px;top:707.4px;width:85.2px;height:16.1px;background:#b4a7d6"></div>
<div class="hl" style="left:393.5px;top:723.5px;width:80.7px;height:16.2px;background:#b4a7d6"></div>
<div class="hl" style="left:409.6px;top:739.7px;width:48.1px;height:16.1px;background:#b4a7d6"></div>
<div class="hl" style="left:391.9px;top:755.8px;width:83.6px;height:16.2px;background:#b4a7d6"></div>
<div class="hl" style="left:403.0px;top:772.0px;width:61.3px;height:16.1px;background:#b4a7d6"></div>
<div class="hl" style="left:414.3px;top:788.1px;width:39.0px;height:16.3px;background:#b4a7d6"></div>
<div class="hl" style="left:608.1px;top:544.2px;width:27.5px;height:15.6px;background:#f6b26b"></div>
<div class="hl" style="left:608.0px;top:592.6px;width:88.5px;height:15.6px;background:#93c47d"></div>
<h1 class="h1">
<span class="t ttl" style="left:97.8px;top:5.5px;letter-spacing:-2.31px">FCHS</span>
<span class="t ttl" style="left:191.4px;top:5.5px;letter-spacing:0.26px">SPread</span>
<span class="t ttl" style="left:313.5px;top:5.5px;letter-spacing:-1.24px">The</span>
<span class="t ttl" style="left:379.5px;top:5.5px;letter-spacing:-2.72px">Love</span>
<span class="t ttl" style="left:453.6px;top:5.5px;letter-spacing:-2.12px">Week</span>
<span class="t ttl" style="left:548.4px;top:5.5px;letter-spacing:1.46px">2023</span>
</h1>
<div class="t hb" style="left:36.4px;top:86.1px;letter-spacing:0.14px">Monday -</div>
<div class="t h" style="left:24.7px;top:102.3px;letter-spacing:-0.36px">February 13th</div>
<div class="t hb" style="left:155.9px;top:86.1px;letter-spacing:-0.64px">Tuesday -</div>
<div class="t h" style="left:141.6px;top:102.3px;letter-spacing:-0.30px">February 14th</div>
<div class="t hb" style="left:272.6px;top:86.1px;letter-spacing:-0.26px">Wednesday -</div>
<div class="t h" style="left:270.1px;top:102.3px;letter-spacing:-0.35px">February 15th</div>
<div class="t hb" style="left:401.4px;top:86.1px;letter-spacing:-0.28px">Thursday -</div>
<div class="t h" style="left:391.7px;top:102.3px;letter-spacing:-0.35px">February 16th</div>
<div class="t hb" style="left:518.9px;top:86.1px;letter-spacing:-0.18px">Friday -</div>
<div class="t h" style="left:501.4px;top:102.3px;letter-spacing:-0.50px">February 17th</div>
<div class="t hb" style="left:621.8px;top:86.1px;letter-spacing:0.05px">Saturday-</div>
<div class="t h" style="left:603.2px;top:102.3px;letter-spacing:-0.33px">February 18th</div>
<div class="t i" style="left:40.6px;top:150.7px;letter-spacing:0.54px">Blue Day</div>
<div class="t " style="left:20.2px;top:315.7px;letter-spacing:0.22px">Wear your best</div>
<div class="t " style="left:34.8px;top:331.7px;letter-spacing:0.13px">blue attire!</div>
<div class="t " style="left:37.2px;top:363.9px;letter-spacing:0.17px">Assembly</div>
<div class="t " style="left:25.2px;top:380.2px;letter-spacing:-0.02px">@10:30 am in</div>
<div class="t " style="left:31.4px;top:396.2px;letter-spacing:0.12px">the big gym</div>
<div class="t u" style="left:18.9px;top:412.2px;letter-spacing:0.04px">Come and meet</div>
<div class="t u" style="left:33.9px;top:428.4px;letter-spacing:0.08px">our special</div>
<div class="t u" style="left:48.2px;top:444.7px;letter-spacing:0.14px">guest!</div>
<div class="t " style="left:26.1px;top:519.2px;letter-spacing:0.12px">Cafe Mexicali</div>
<div class="t " style="left:16.7px;top:535.5px;letter-spacing:0.26px">fundraiser night,</div>
<div class="t " style="left:14.9px;top:551.9px;letter-spacing:0.06px">just make sure to</div>
<div class="t " style="left:16.2px;top:568.2px;letter-spacing:-0.00px">show your FCHS</div>
<div class="t " style="left:55.0px;top:584.5px;letter-spacing:0.43px">flier</div>
<div class="t i" style="left:134.0px;top:150.3px;letter-spacing:0.11px">Tropical Tuesday</div>
<div class="t " style="left:150.8px;top:307.1px;letter-spacing:0.51px">Wear your</div>
<div class="t " style="left:136.9px;top:323.3px;letter-spacing:0.24px">tropical outfit in</div>
<div class="t " style="left:158.0px;top:339.3px;letter-spacing:0.35px">honor of</div>
<div class="t " style="left:133.6px;top:355.6px;letter-spacing:0.15px">Braxtons wish to</div>
<div class="t " style="left:144.6px;top:371.7px;letter-spacing:0.03px">go to Hawaii!</div>
<div class="t " style="left:135.2px;top:475.6px;letter-spacing:0.14px">Boys Basketball</div>
<div class="t " style="left:131.5px;top:491.8px;letter-spacing:0.02px">game V.S Legacy</div>
<div class="t " style="left:137.9px;top:507.9px;letter-spacing:-0.13px">@6:30 @FCHS</div>
<div class="t i" style="left:269.7px;top:150.8px;letter-spacing:0.19px">Bed head and</div>
<div class="t i" style="left:272.0px;top:166.7px;letter-spacing:0.17px">Pajamas Day</div>
<div class="t i" style="left:256.5px;top:337.6px;letter-spacing:0.01px">Roll out of bed and</div>
<div class="t i" style="left:257.2px;top:353.4px;letter-spacing:0.13px">into school in your</div>
<div class="t i" style="left:276.3px;top:369.3px;letter-spacing:0.10px">favorite Pjs!</div>
<div class="t i" style="left:252.0px;top:491.1px;letter-spacing:0.12px">Lambkins got Talent</div>
<div class="t i" style="left:259.9px;top:507.3px;letter-spacing:0.17px">@7pm in McNeal</div>
<div class="t i" style="left:279.6px;top:523.3px;letter-spacing:0.34px">auditorium</div>
<div class="t i" style="left:396.0px;top:150.9px;letter-spacing:0.48px">Harry Potter</div>
<div class="t i" style="left:421.2px;top:166.7px;letter-spacing:1.50px">Day</div>
<div class="t i" style="left:393.4px;top:330.3px;letter-spacing:-0.01px">Seniors wear:</div>
<div class="t i" style="left:392.7px;top:346.7px;letter-spacing:0.05px"><span style="color:#f1c232">Gold</span> and <span style="color:#cc0000">Red</span></div>
<div class="t i" style="left:392.7px;top:362.7px;letter-spacing:0.24px">Juniors wear:</div>
<div class="t i" style="left:402.5px;top:378.7px;letter-spacing:0.09px"><span style="color:#38761d">Green</span> and</div>
<div class="t i" style="left:417.2px;top:394.7px;letter-spacing:0.17px"><span style="color:#cccccc">Silver</span></div>
<div class="t i" style="left:396.4px;top:410.7px;letter-spacing:0.04px">Sophomores</div>
<div class="t i" style="left:388.5px;top:427.1px;letter-spacing:0.10px">Wear: <span style="color:#1155cc">Blue</span> and</div>
<div class="t i" style="left:417.2px;top:443.3px;letter-spacing:0.40px">Black</div>
<div class="t i" style="left:405.0px;top:459.2px;letter-spacing:-0.01px">Freshman</div>
<div class="t i" style="left:396.9px;top:475.3px;letter-spacing:0.07px">wear: <span style="color:#ffd966">Yellow</span></div>
<div class="t i" style="left:403.8px;top:491.7px;letter-spacing:0.32px">and Black</div>
<div class="t i" style="left:399.3px;top:579.2px;letter-spacing:-0.01px">Cross Town</div>
<div class="t i" style="left:392.7px;top:595.5px;letter-spacing:-0.01px">Rival @Rocky</div>
<div class="t i" style="left:387.8px;top:611.6px;letter-spacing:-0.22px">FCHS Vs Rocky</div>
<div class="t i" style="left:396.9px;top:627.6px;letter-spacing:0.12px">Girls &amp; Boys</div>
<div class="t i" style="left:402.5px;top:643.7px;letter-spacing:0.19px">Basketball</div>
<div class="t i" style="left:403.8px;top:660.0px;letter-spacing:0.03px">Girls: 5:30</div>
<div class="t i" style="left:412.4px;top:676.2px;letter-spacing:-0.09px">Boys: 7</div>
<div class="t i" style="left:398.2px;top:691.9px;letter-spacing:-0.13px">Join us for a</div>
<div class="t i" style="left:391.7px;top:708.1px;letter-spacing:-0.03px">tailgate before</div>
<div class="t i" style="left:394.2px;top:724.2px;letter-spacing:-0.16px">and games at</div>
<div class="t i" style="left:410.2px;top:740.4px;letter-spacing:-0.02px">halftime</div>
<div class="t i" style="left:392.2px;top:756.6px;letter-spacing:-0.30px">(donuts, pizza,</div>
<div class="t i" style="left:403.7px;top:772.7px;letter-spacing:-0.25px">canes and</div>
<div class="t i" style="left:414.7px;top:788.9px;letter-spacing:-0.20px">more!)</div>
<div class="t i" style="left:505.4px;top:150.8px;letter-spacing:0.10px">STLW Shirts</div>
<div class="t i" style="left:529.7px;top:166.7px;letter-spacing:1.70px">Day</div>
<div class="t " style="left:500.0px;top:322.7px;letter-spacing:0.40px">Wear your</div>
<div class="t " style="left:493.5px;top:338.8px;letter-spacing:-0.06px">Spread the love</div>
<div class="t " style="left:493.5px;top:355.1px;letter-spacing:0.02px">week shirt!</div>
<div class="t u" style="left:498.0px;top:371.3px;letter-spacing:0.10px">(Purchase one</div>
<div class="t u" style="left:501.3px;top:387.4px;letter-spacing:0.11px">at the table in</div>
<div class="t u" style="left:494.1px;top:403.5px;letter-spacing:0.10px">the spine during</div>
<div class="t u" style="left:508.4px;top:419.5px;letter-spacing:0.43px">lunch M-F)</div>
<div class="t " style="left:500.0px;top:435.9px;letter-spacing:-0.26px">Shirt Cost: <span style="color:#ff0000">$15</span></div>
<div class="t " style="left:497.0px;top:554.2px;letter-spacing:-0.09px">FCHS first ever</div>
<div class="t " style="left:513.0px;top:570.3px;letter-spacing:0.11px">dodgeball</div>
<div class="t " style="left:506.8px;top:586.5px;letter-spacing:0.41px">tournament</div>
<div class="t " style="left:503.9px;top:602.7px;letter-spacing:0.12px">@4:30 in the</div>
<div class="t " style="left:509.8px;top:618.7px;letter-spacing:0.13px">small gym!</div>
<div class="t " style="left:501.9px;top:634.8px;letter-spacing:0.08px">(come watch)</div>
<div class="t i" style="left:606.1px;top:150.8px;letter-spacing:-0.01px">Spread the love</div>
<div class="t i" style="left:618.7px;top:166.7px;letter-spacing:0.05px">week Disco</div>
<div class="t i" style="left:631.5px;top:183.0px;letter-spacing:0.15px">Dance!</div>
<div class="t " style="left:631.8px;top:318.7px;letter-spacing:0.44px">Dance</div>
<div class="t " style="left:617.1px;top:334.7px;letter-spacing:0.39px">information</div>
<div class="t " style="left:605.5px;top:366.7px;letter-spacing:-0.37px">8-11pm @FCHS</div>
<div class="t " style="left:612.2px;top:399.2px;letter-spacing:0.12px">Homecoming</div>
<div class="t " style="left:635.5px;top:415.3px;letter-spacing:0.67px">attire</div>
<div class="t " style="left:608.0px;top:447.7px;letter-spacing:-0.12px">Snacks, drinks,</div>
<div class="t " style="left:613.4px;top:463.8px;letter-spacing:0.01px">games and a</div>
<div class="t " style="left:615.9px;top:480.0px;letter-spacing:0.23px">photobooth!</div>
<div class="t " style="left:616.3px;top:528.5px;letter-spacing:-0.03px">Ticket Sales</div>
<div class="t " style="left:607.3px;top:544.7px;letter-spacing:0.23px">M-F on School</div>
<div class="t " style="left:608.0px;top:560.9px;letter-spacing:0.05px">Pay, and in the</div>
<div class="t " style="left:615.4px;top:577.0px;letter-spacing:0.05px">spine during</div>
<div class="t " style="left:608.2px;top:593.1px;letter-spacing:0.07px">common lunch</div>
<div class="t u" style="left:604.3px;top:609.3px;letter-spacing:0.06px">$15 without and</div>
<div class="t u" style="left:615.4px;top:625.4px;letter-spacing:0.05px">activity pass</div>
<div class="t u" style="left:617.8px;top:641.6px;letter-spacing:0.01px">$10 with an</div>
<div class="t u" style="left:615.4px;top:657.7px;letter-spacing:0.05px">activity pass</div>
</body></html>
